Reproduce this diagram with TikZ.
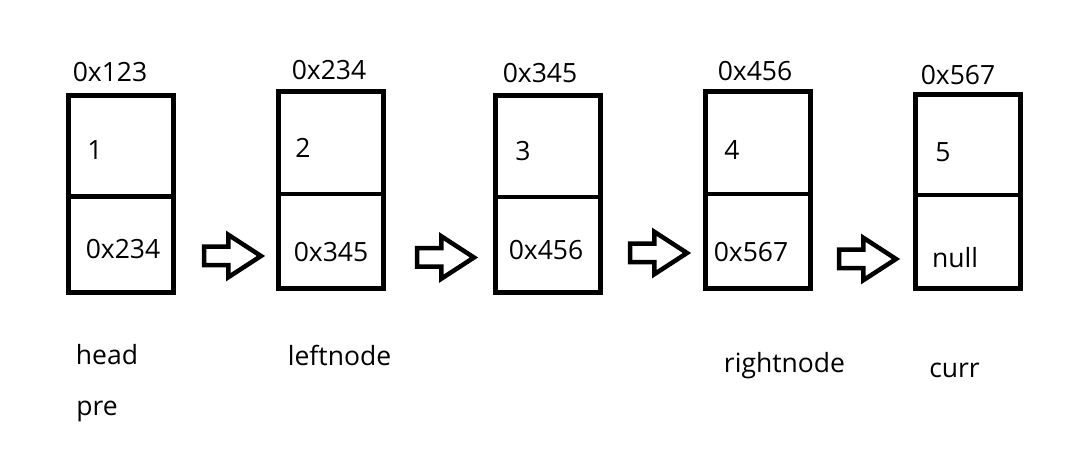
\documentclass[tikz,border=0pt]{standalone}
\usepackage{fontspec}
\setmainfont{Open Sans}
\usetikzlibrary{positioning,shapes.arrows}

\begin{document}
\begin{tikzpicture}[x=1pt, y=-1pt,
  cell/.style={draw, line width=4.5pt, minimum width=105pt, inner sep=0pt, outer sep=0pt},
  txt/.style={inner sep=0pt, font=\fontsize{26.5}{30}\selectfont},
  bigarrow/.style={single arrow, draw, line width=4.5pt, inner sep=7pt, outer sep=0pt,
    minimum height=57pt, single arrow head extend=12pt, single arrow tip angle=66, anchor=tail}]

  % --- 0. range ---
  \useasboundingbox (0,0) rectangle (1081,462);

  % --- 1. node 0x123 ---
  \node[cell, minimum height=101pt, anchor=north west] (val1) at (68.5,95.5) {};
  \node[cell, minimum height=96pt, below=0pt of val1] (ptr1) {};
  \node[txt] (addr1) at (110,72) {0x123};
  \node[txt] (data1) at (95,150) {1};
  \node[txt] (next1) at (123,249) {0x234};

  % --- 2. node 0x234 ---
  \node[cell, minimum height=102.5pt, anchor=north west] (val2) at (278.5,91.5) {};
  \node[cell, minimum height=94.5pt, below=0pt of val2] (ptr2) {};
  \node[txt] (addr2) at (329,70) {0x234};
  \node[txt] (data2) at (303,148) {2};
  \node[txt] (next2) at (331,252) {0x345};

  % --- 3. node 0x345 ---
  \node[cell, minimum height=101.5pt, anchor=north west] (val3) at (495.5,95.5) {};
  \node[cell, minimum height=95.5pt, below=0pt of val3] (ptr3) {};
  \node[txt] (addr3) at (540,73) {0x345};
  \node[txt] (data3) at (523,151) {3};
  \node[txt] (next3) at (546,250) {0x456};

  % --- 4. node 0x456 ---
  \node[cell, minimum height=102.5pt, anchor=north west] (val4) at (705.5,91.5) {};
  \node[cell, minimum height=94.5pt, below=0pt of val4] (ptr4) {};
  \node[txt] (addr4) at (755,71) {0x456};
  \node[txt] (data4) at (732,150) {4};
  \node[txt] (next4) at (751,252) {0x567};

  % --- 5. node 0x567 ---
  \node[cell, minimum height=100.5pt, anchor=north west] (val5) at (915.5,94.5) {};
  \node[cell, minimum height=93.5pt, below=0pt of val5] (ptr5) {};
  \node[txt] (addr5) at (958,75) {0x567};
  \node[txt] (data5) at (943,152) {5};
  \node[txt] (next5) at (955,258) {null};

  % --- 6. arrows ---
  \node[bigarrow] (arr1) at (204,256) {};
  \node[bigarrow] (arr2) at (417,257.5) {};
  \node[bigarrow] (arr3) at (630,253) {};
  \node[bigarrow] (arr4) at (839,259) {};

  % --- 7. pointer names ---
  \node[txt] (head) at (107,355) {head};
  \node[txt] (pre) at (97,411) {pre};
  \node[txt] (left) at (339.5,355) {leftnode};
  \node[txt] (right) at (784.5,366) {rightnode};
  \node[txt] (curr) at (954.5,370) {curr};

\end{tikzpicture}
\end{document}
